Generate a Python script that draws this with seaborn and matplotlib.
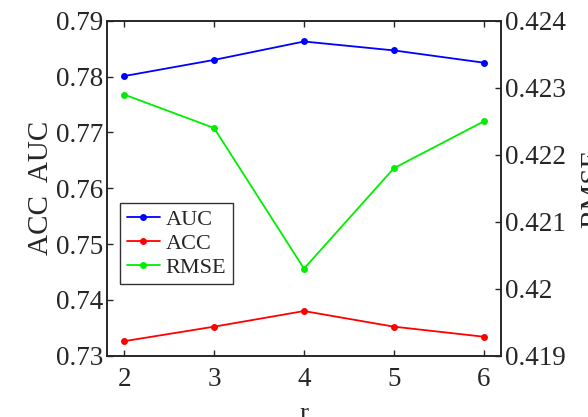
import matplotlib
matplotlib.use("Agg")
import matplotlib.pyplot as plt
import seaborn as sns
import pandas as pd

r_vals = [2, 3, 4, 5, 6]
auc = [0.7801, 0.7830, 0.7863, 0.7847, 0.7825]
acc = [0.7326, 0.7352, 0.7380, 0.7352, 0.7334]
rmse = [0.4229, 0.4224, 0.4203, 0.4218, 0.4225]

left_ticks = [0.73, 0.74, 0.75, 0.76, 0.77, 0.78, 0.79]
left_labels = ["0.73", "0.74", "0.75", "0.76", "0.77", "0.78", "0.79"]
right_ticks = [0.419, 0.420, 0.421, 0.422, 0.423, 0.424]
right_labels = ["0.419", "0.42", "0.421", "0.422", "0.423", "0.424"]

sns.set_style("ticks")
FAM = ['Liberation Serif', 'DejaVu Serif']
plt.rcParams['font.family'] = FAM
plt.rcParams['xtick.direction'] = 'in'
plt.rcParams['ytick.direction'] = 'in'

df = pd.DataFrame({"r": r_vals, "AUC": auc, "ACC": acc, "RMSE": rmse})

fig = plt.figure(figsize=(5.88, 4.17), dpi=100)
ax = fig.add_axes([0.182, 0.147, 0.670, 0.803])
ax2 = ax.twinx()

kw = dict(marker="o", markersize=5, linewidth=1.3, markeredgewidth=0)
sns.lineplot(data=df, x="r", y="AUC", ax=ax, color="#0000ff", label="AUC", legend=False, **kw)
sns.lineplot(data=df, x="r", y="ACC", ax=ax, color="#ff0000", label="ACC", legend=False, **kw)
sns.lineplot(data=df, x="r", y="RMSE", ax=ax2, color="#00ee00", label="RMSE", legend=False, **kw)

ax.set_xlim(1.81, 6.19)
ax.set_ylim(0.73, 0.79)
ax.set_yticks(left_ticks)
ax.set_yticklabels(left_labels, fontfamily=FAM)
ax.set_xticks(r_vals)
ax.set_xticklabels([str(v) for v in r_vals], fontfamily=FAM)
ax2.set_ylim(0.419, 0.424)
ax2.set_yticks(right_ticks)
ax2.set_yticklabels(right_labels, fontfamily=FAM)

for a in (ax, ax2):
    a.tick_params(labelsize=19.5, length=4, width=1, pad=3)
    for s in a.spines.values():
        s.set_linewidth(1.2)
        s.set_visible(True)
ax.tick_params(axis="x", top=True, pad=8)

ax.set_xlabel("r", fontsize=19.5, labelpad=7)
ax.set_ylabel("ACC  AUC", fontsize=21, labelpad=1)
ax2.set_ylabel("RMSE", fontsize=21, labelpad=10)

h1, l1 = ax.get_legend_handles_labels()
h2, l2 = ax2.get_legend_handles_labels()
leg = ax.legend(h1 + h2, l1 + l2, loc="upper left", bbox_to_anchor=(0.033, 0.457),
                fontsize=16, frameon=True, fancybox=False, edgecolor="black",
                handlelength=1.5, handletextpad=0.25, borderpad=0.3, labelspacing=0.15,
                borderaxespad=0)
leg.get_frame().set_linewidth(1.0)

fig.savefig("out.png", dpi=100)
